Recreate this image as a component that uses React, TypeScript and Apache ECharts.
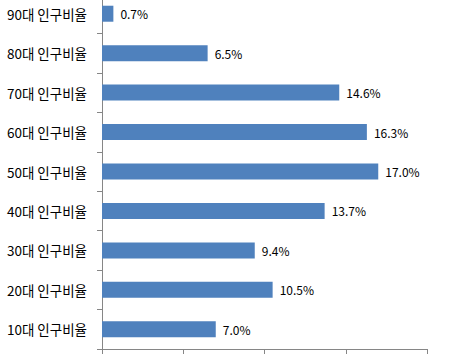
import React, { useEffect, useRef } from "react";
import * as echarts from "echarts";

const categories = ["10대 인구비율", "20대 인구비율", "30대 인구비율", "40대 인구비율", "50대 인구비율", "60대 인구비율", "70대 인구비율", "80대 인구비율", "90대 인구비율"];
const values = [7.0, 10.5, 9.4, 13.7, 17.0, 16.3, 14.6, 6.5, 0.7];

export default function App() {
  const ref = useRef<HTMLDivElement>(null);
  useEffect(() => {
    if (!ref.current) return;
    const chart = echarts.init(ref.current, null, { renderer: "svg" });
    chart.setOption({
      animation: false,
      grid: { left: 102, top: 0, width: 325, height: 355 },
      xAxis: {
        type: "value",
        min: 0,
        max: 20,
        interval: 5,
        axisLine: { show: true, lineStyle: { color: "#868686" } },
        axisTick: { show: true, inside: false, length: 5, lineStyle: { color: "#868686" } },
        axisLabel: { show: false },
        splitLine: { show: false },
      },
      yAxis: {
        type: "category",
        data: categories,
        axisLine: { show: true, lineStyle: { color: "#868686" } },
        axisTick: { show: true, length: 5, lineStyle: { color: "#868686" } },
        axisLabel: {
          color: "#000",
          fontSize: 13.5,
          fontFamily: "Noto Sans CJK KR",
          margin: 15,
        },
      },
      series: [
        {
          type: "bar",
          data: values,
          barWidth: 16,
          itemStyle: { color: "#4F81BD" },
          label: {
            show: true,
            position: "right",
            distance: 7,
            color: "#000",
            fontSize: 12,
            fontFamily: "Noto Sans CJK KR",
            formatter: (p: any) => p.value.toFixed(1) + "%",
          },
        },
      ],
    });
    return () => chart.dispose();
  }, []);
  return (
    <div style={{ position: "absolute", left: 0, top: 0, width: 449, height: 363, overflow: "hidden" }}>
      <div ref={ref} style={{ width: 449, height: 369, position: "absolute", left: 0, top: -6 }} />
    </div>
  );
}
